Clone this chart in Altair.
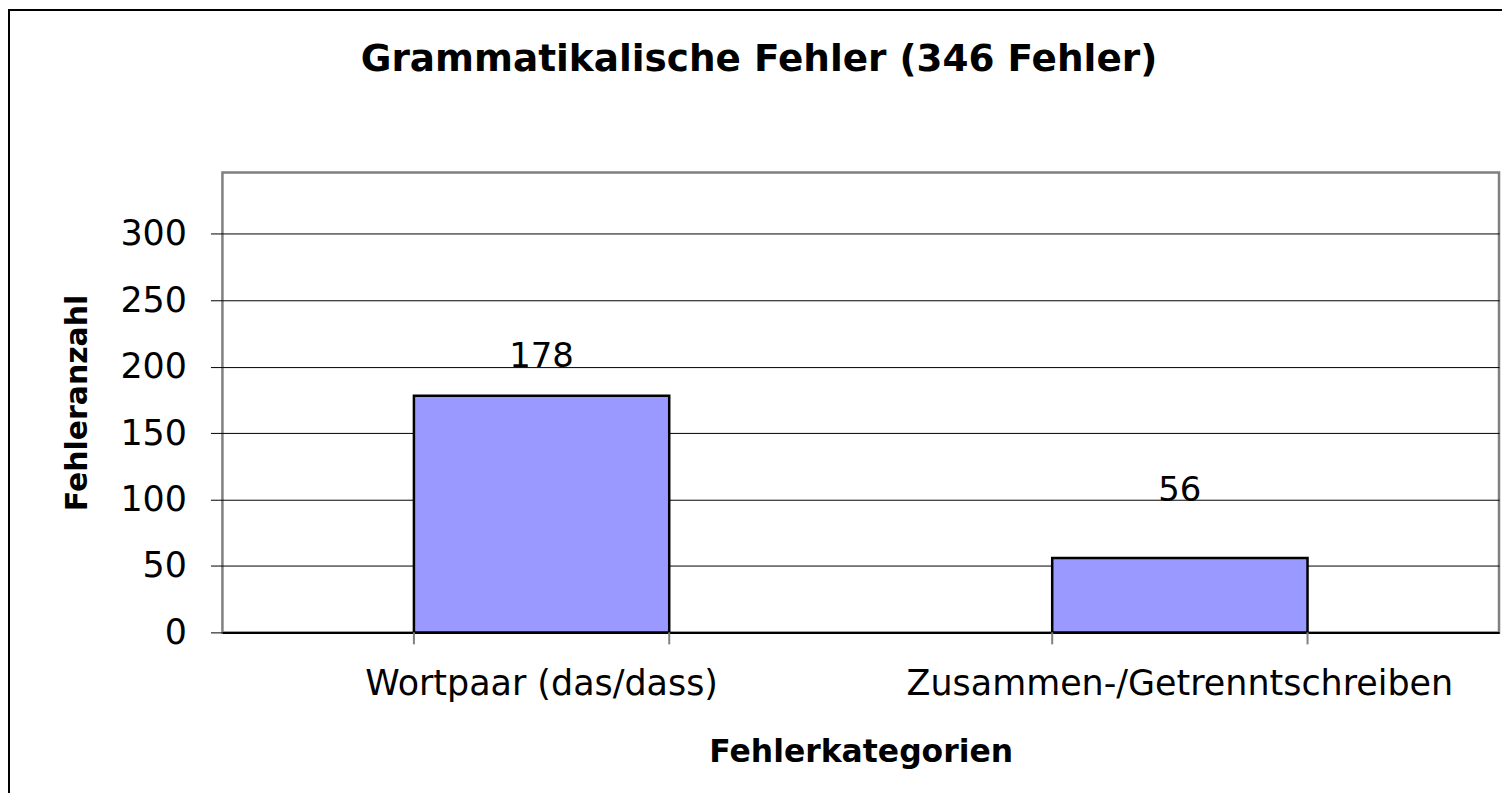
import altair as alt
import pandas as pd

categories = ["Wortpaar (das/dass)", "Zusammen-/Getrenntschreiben"]
counts = [178, 56]
y_ticks = [0, 50, 100, 150, 200, 250, 300]
y_max = 346
title_text = "Grammatikalische Fehler (346 Fehler)"

df = pd.DataFrame({"cat": categories, "n": counts})

W, H = 1280, 461
FONT = "DejaVu Sans"

xscale = alt.Scale(domain=categories, paddingInner=0.6, paddingOuter=0.3)
yscale = alt.Scale(domain=[0, y_max], nice=False, zero=True)

base = alt.Chart(df)

bars = base.mark_bar(fill="#9999FF", stroke="#000000", strokeWidth=2.5).encode(
    x=alt.X(
        "cat:N", scale=xscale, sort=categories,
        axis=alt.Axis(
            title="Fehlerkategorien", labelAngle=0, ticks=False, tickSize=0,
            labelPadding=62, labelBaseline="alphabetic", labelFont=FONT,
            labelFontSize=35, labelColor="#000000", labelLimit=2000,
            domain=True, domainColor="#000000", domainWidth=2, grid=False,
            titleFont=FONT, titleFontSize=31.5, titleFontWeight="bold",
            titleColor="#000000", titleBaseline="alphabetic", titleY=129,
        ),
    ),
    y=alt.Y(
        "n:Q", scale=yscale,
        axis=alt.Axis(
            values=y_ticks, title="Fehleranzahl", grid=True, gridColor="#000000",
            gridWidth=1, gridOpacity=1, tickColor="#000000", tickSize=12, tickWidth=1,
            domain=False, labelPadding=24, labelFont=FONT, labelFontSize=35,
            labelColor="#000000", titleFont=FONT, titleFontSize=30,
            titleFontWeight="bold", titleColor="#000000", titleAngle=270,
            titleBaseline="alphabetic", titleX=-136, titleY=H / 2, titleAlign="center",
        ),
    ),
)

lab1 = base.transform_filter(alt.datum.cat == categories[0]).mark_text(
    dy=-29, baseline="alphabetic", fontSize=34, font=FONT, color="#000000"
).encode(x=alt.X("cat:N", scale=xscale, sort=categories), y=alt.Y("n:Q", scale=yscale), text="n:Q")

lab2 = base.transform_filter(alt.datum.cat == categories[1]).mark_text(
    dy=-57, baseline="alphabetic", fontSize=34, font=FONT, color="#000000"
).encode(x=alt.X("cat:N", scale=xscale, sort=categories), y=alt.Y("n:Q", scale=yscale), text="n:Q")

tick0 = base.mark_rule(color="#808080", strokeWidth=2).encode(
    x=alt.X("cat:N", scale=xscale, sort=categories, bandPosition=0),
    y=alt.value(H), y2=alt.value(H + 12),
)
tick1 = base.mark_rule(color="#808080", strokeWidth=2).encode(
    x=alt.X("cat:N", scale=xscale, sort=categories, bandPosition=1),
    y=alt.value(H), y2=alt.value(H + 12),
)

frame = alt.Chart(pd.DataFrame({"f": [0]})).mark_rect(
    filled=False, stroke="#000000", strokeWidth=2
).encode(x=alt.value(-214), x2=alt.value(1400), y=alt.value(-163), y2=alt.value(700))

chart = alt.layer(frame, bars, tick0, tick1, lab1, lab2).properties(
    width=W, height=H,
    background="white",
    title=alt.TitleParams(
        text=title_text, font=FONT, fontSize=37.5, fontWeight="bold", color="#000000",
        anchor="middle", frame="group", dx=-102, offset=-100, baseline="alphabetic",
    ),
    autosize=alt.AutoSizeParams(type="none"),
    padding={"left": 215, "top": 164, "right": 3, "bottom": 160},
).configure_view(stroke="#808080", strokeWidth=2.5)

chart.save("out.html", embed_options={"renderer": "svg", "actions": False})
